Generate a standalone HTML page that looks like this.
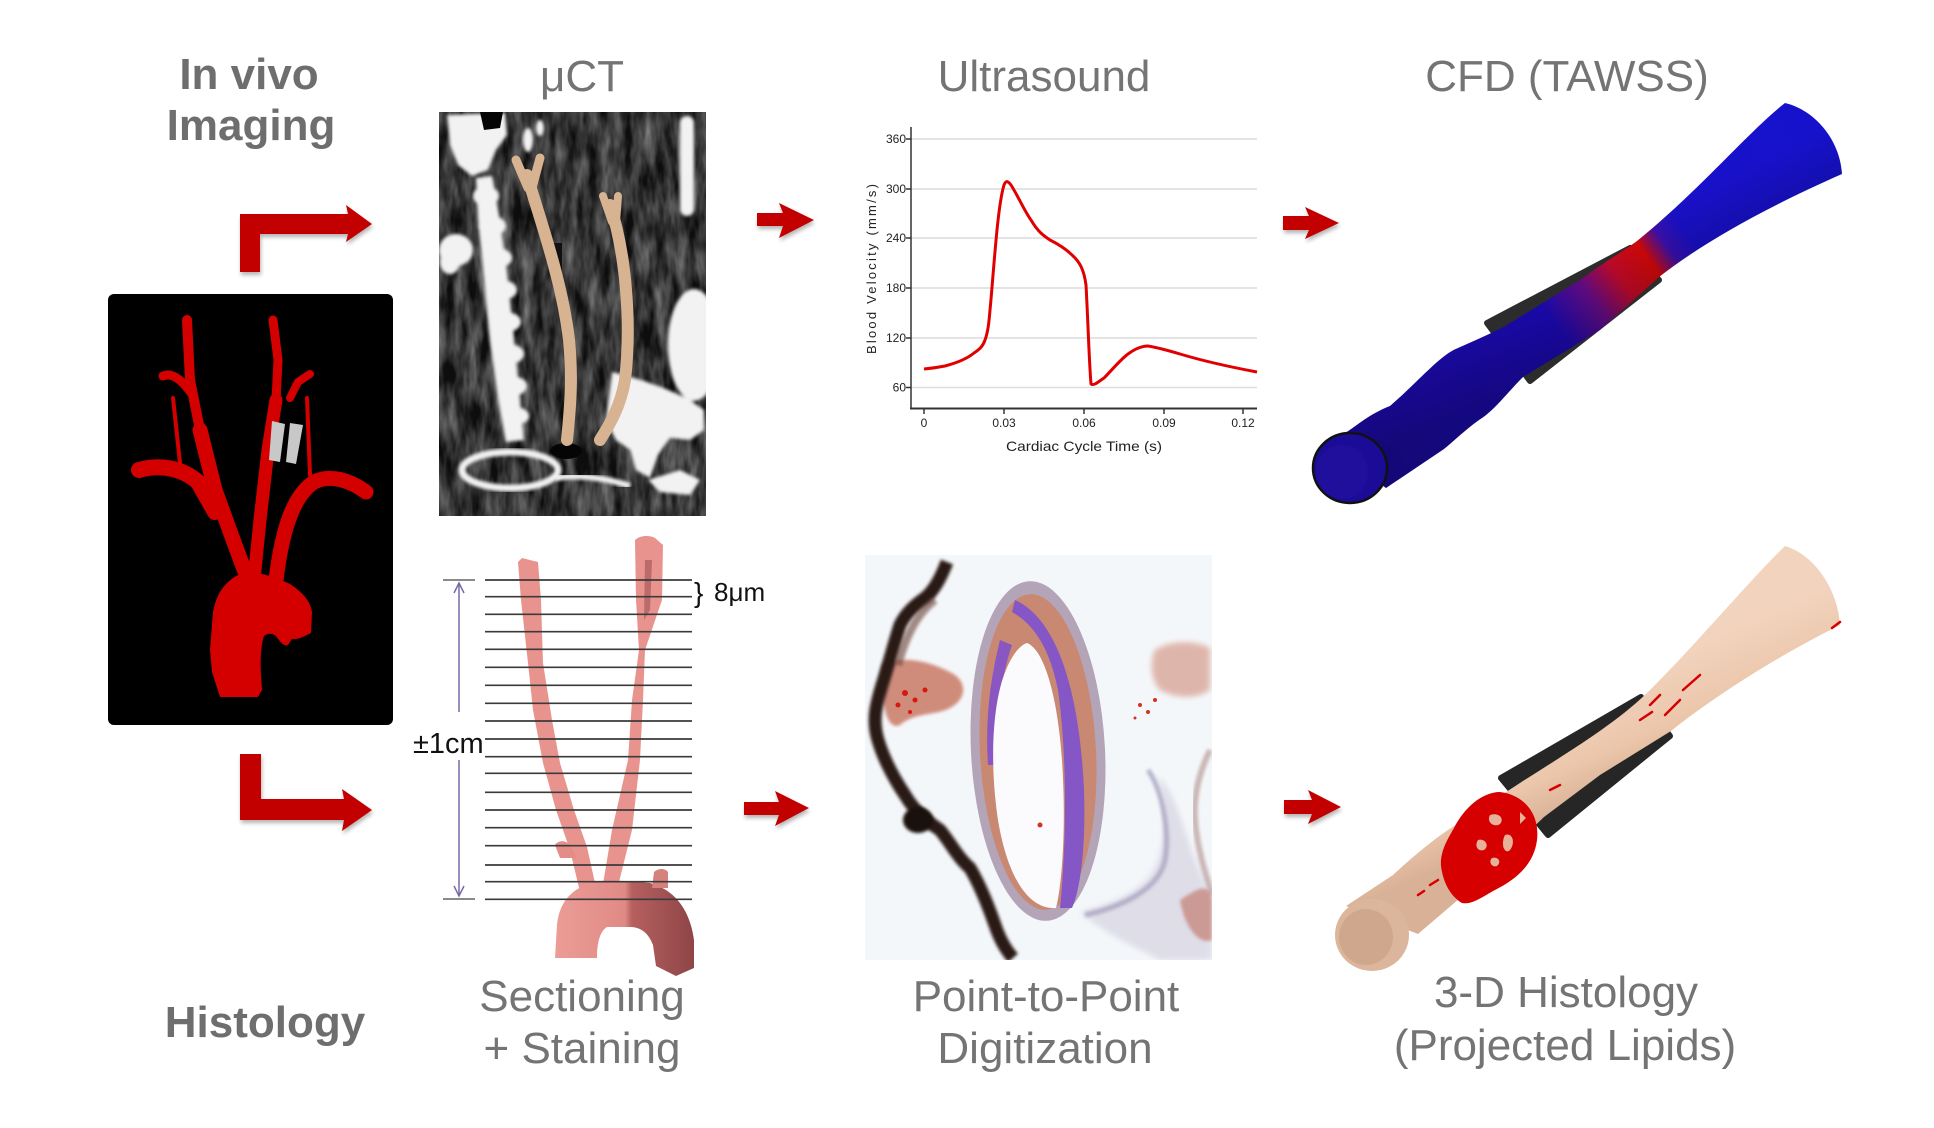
<!DOCTYPE html>
<html>
<head>
<meta charset="utf-8">
<style>
  html,body{margin:0;padding:0;background:#fff;}
  svg{display:block;}
  text{font-family:"Liberation Sans", Arial, sans-serif;}
</style>
</head>
<body>
<svg width="1934" height="1128" viewBox="0 0 1934 1128" xmlns="http://www.w3.org/2000/svg">
  <defs>
    <filter id="noise" x="0" y="0" width="100%" height="100%" color-interpolation-filters="sRGB">
      <feTurbulence type="fractalNoise" baseFrequency="0.09 0.025" numOctaves="3" seed="7"/>
      <feColorMatrix type="matrix" values="0.8 0 0 0 -0.2  0.8 0 0 0 -0.2  0.8 0 0 0 -0.2  0 0 0 0 1"/>
    </filter>
    <filter id="blur1" color-interpolation-filters="sRGB"><feGaussianBlur stdDeviation="1.6"/></filter>
    <filter id="blur2" color-interpolation-filters="sRGB"><feGaussianBlur stdDeviation="3"/></filter>
    <filter id="shadow" x="-20%" y="-20%" width="140%" height="160%" color-interpolation-filters="sRGB">
      <feGaussianBlur in="SourceAlpha" stdDeviation="2"/>
      <feOffset dx="1" dy="3"/>
      <feComponentTransfer><feFuncA type="linear" slope="0.3"/></feComponentTransfer>
      <feMerge><feMergeNode/><feMergeNode in="SourceGraphic"/></feMerge>
    </filter>
    <linearGradient id="cfdGrad" gradientUnits="userSpaceOnUse" x1="1350" y1="468" x2="1814" y2="138">
      <stop offset="0" stop-color="#1a0a9c"/>
      <stop offset="0.44" stop-color="#1c0ab8"/>
      <stop offset="0.52" stop-color="#6a0c8a"/>
      <stop offset="0.58" stop-color="#c80a2a"/>
      <stop offset="0.64" stop-color="#d80808"/>
      <stop offset="0.68" stop-color="#3a10b0"/>
      <stop offset="0.72" stop-color="#1a10c8"/>
      <stop offset="1" stop-color="#1612cc"/>
    </linearGradient>
    <linearGradient id="cfdShade" gradientUnits="userSpaceOnUse" x1="1600" y1="240" x2="1640" y2="320">
      <stop offset="0" stop-color="#000" stop-opacity="0"/>
      <stop offset="1" stop-color="#000" stop-opacity="0.25"/>
    </linearGradient>
    <linearGradient id="tanGrad" gradientUnits="userSpaceOnUse" x1="1600" y1="690" x2="1640" y2="780">
      <stop offset="0" stop-color="#f2d3bd"/>
      <stop offset="0.6" stop-color="#ebc6ab"/>
      <stop offset="1" stop-color="#d9b196"/>
    </linearGradient>
    <linearGradient id="archGrad" gradientUnits="userSpaceOnUse" x1="555" y1="0" x2="695" y2="0">
      <stop offset="0" stop-color="#ec9c96"/>
      <stop offset="0.5" stop-color="#e08a86"/>
      <stop offset="0.55" stop-color="#b5605f"/>
      <stop offset="1" stop-color="#8e4446"/>
    </linearGradient>
    <clipPath id="ctClip"><rect x="439" y="112" width="267" height="404"/></clipPath>
    <clipPath id="histClip"><rect x="865" y="555" width="347" height="405"/></clipPath>
  </defs>

  <!-- ===== Headers ===== -->
  <text x="249" y="89" font-size="44" font-weight="bold" fill="#6e6e6e" text-anchor="middle">In vivo</text>
  <text x="251" y="140" font-size="44" font-weight="bold" fill="#6e6e6e" text-anchor="middle">Imaging</text>
  <text x="582" y="91" font-size="44" fill="#747474" text-anchor="middle">μCT</text>
  <text x="1044" y="91" font-size="44" fill="#747474" text-anchor="middle">Ultrasound</text>
  <text x="1567" y="91" font-size="44" fill="#747474" text-anchor="middle">CFD (TAWSS)</text>

  <!-- ===== Bottom labels ===== -->
  <text x="265" y="1037" font-size="44" font-weight="bold" fill="#6e6e6e" text-anchor="middle">Histology</text>
  <text x="582" y="1011" font-size="44" fill="#747474" text-anchor="middle">Sectioning</text>
  <text x="582" y="1063" font-size="44" fill="#747474" text-anchor="middle">+ Staining</text>
  <text x="1046" y="1011" font-size="44" fill="#747474" text-anchor="middle">Point-to-Point</text>
  <text x="1045" y="1063" font-size="44" fill="#747474" text-anchor="middle">Digitization</text>
  <text x="1566" y="1007" font-size="44" fill="#747474" text-anchor="middle">3-D Histology</text>
  <text x="1565" y="1060" font-size="44" fill="#747474" text-anchor="middle">(Projected Lipids)</text>

  <!-- ===== L arrows ===== -->
  <g fill="#c20000" filter="url(#shadow)">
    <polygon points="240,214 348,214 346,205 372,224 346,242 348,234 260,234 260,272 240,272"/>
    <polygon points="240,754 261,754 261,799 344,799 342,789 372,810 342,831 344,820 240,820"/>
  </g>

  <!-- ===== straight arrows ===== -->
  <g fill="#c20000" filter="url(#shadow)">
    <polygon points="757,213 783,213 779,203 814,220 779,238 783,226 757,226"/>
    <polygon points="1283,216 1309,216 1305,207 1339,223 1305,239 1309,230 1283,230"/>
    <polygon points="744,802 779,802 775,791 809,808 775,826 779,815 744,815"/>
    <polygon points="1284,800 1312,800 1308,790 1341,807 1308,824 1312,814 1284,814"/>
  </g>

  <!-- ===== Black box with vessel tree ===== -->
  <rect x="108" y="294" width="285" height="431" rx="6" fill="#000"/>
  <g stroke="#d40000" fill="none" stroke-linecap="round" stroke-linejoin="round">
    <path d="M187,320 L190,380 L200,430" stroke-width="10"/>
    <path d="M200,430 L215,490 L235,545 L250,585" stroke-width="15"/>
    <path d="M163,376 C172,372 182,380 192,394" stroke-width="9"/>
    <path d="M173,398 L180,463" stroke-width="4"/>
    <path d="M139,470 C160,464 182,468 198,482 L215,512" stroke-width="16"/>
    <path d="M273,320 L278,360 L276,400" stroke-width="9"/>
    <path d="M276,400 L268,450 L260,520 L254,580" stroke-width="13"/>
    <path d="M290,398 L298,382 L310,374" stroke-width="8"/>
    <path d="M307,398 L310,475" stroke-width="4"/>
    <path d="M366,492 C350,480 330,474 314,482 C296,494 283,522 276,580" stroke-width="15"/>
  </g>
  <polygon points="272,421 285,424 280,462 269,460" fill="#c8c8c8"/>
  <polygon points="290,423 303,425 296,464 286,462" fill="#c8c8c8"/>
  <path d="M227,583 C235,575 245,571 252,572 C265,574 278,578 290,584 C302,592 310,600 312,612 L311,633 C305,636 298,640 292,639 L288,645 C283,647 279,640 276,636 C272,633 268,633 264,636 C261,645 260,660 261,675 L262,690 L258,697 L220,697 L212,672 L210,650 L213,612 C216,598 220,590 227,583 Z" fill="#d40000"/>

  <!-- ===== μCT image ===== -->
  <g clip-path="url(#ctClip)">
    <rect x="439" y="112" width="267" height="404" fill="#444"/>
    <rect x="439" y="112" width="267" height="404" filter="url(#noise)" opacity="0.8"/>
    <g fill="#f2f2f2" filter="url(#blur1)">
      <path d="M447,115 L505,113 L507,135 L496,150 L488,170 L472,176 L458,165 L450,145 Z"/>
      <path d="M476,178 L492,176 L500,220 L508,280 L514,340 L520,400 L524,440 L506,442 L498,400 L490,340 L484,280 L478,220 Z"/>
      <ellipse cx="486" cy="196" rx="13" ry="10"/>
      <ellipse cx="492" cy="226" rx="14" ry="10"/>
      <ellipse cx="497" cy="258" rx="15" ry="10"/>
      <ellipse cx="502" cy="290" rx="15" ry="10"/>
      <ellipse cx="506" cy="322" rx="15" ry="10"/>
      <ellipse cx="509" cy="354" rx="15" ry="10"/>
      <ellipse cx="512" cy="386" rx="15" ry="10"/>
      <ellipse cx="515" cy="416" rx="14" ry="9"/>
      <ellipse cx="456" cy="250" rx="17" ry="16"/>
      <ellipse cx="450" cy="262" rx="10" ry="12"/>
      <ellipse cx="528" cy="140" rx="5" ry="12"/>
      <ellipse cx="540" cy="128" rx="4" ry="8"/>
      <rect x="680" y="116" width="14" height="100" rx="7"/>
      <ellipse cx="694" cy="345" rx="26" ry="56"/>
      <path d="M612,372 C630,376 660,385 690,400 L704,410 L704,430 L690,440 L670,438 L658,455 L650,478 L636,470 L630,450 L616,440 L606,420 Z"/>
      <path d="M648,480 L680,470 L700,480 L690,495 L660,492 Z"/>
    </g>
    <g fill="#050505"><ellipse cx="566" cy="451" rx="16" ry="8"/></g>
    <ellipse cx="510" cy="470" rx="48" ry="18" fill="none" stroke="#f2f2f2" stroke-width="7" filter="url(#blur1)"/>
    <path d="M555,478 C580,474 605,478 630,486" fill="none" stroke="#f2f2f2" stroke-width="6" filter="url(#blur1)"/>
    <path d="M480,112 L503,112 L500,128 L484,130 Z" fill="#050505"/>
    <rect x="553" y="243" width="9" height="30" fill="#111"/>
    <g stroke="#d8b392" fill="none" stroke-linecap="round">
      <path d="M527,175 C540,220 562,280 569,340 C573,380 570,410 567,440" stroke-width="12"/>
      <path d="M516,160 L528,188" stroke-width="9"/>
      <path d="M540,158 L532,188" stroke-width="9"/>
      <path d="M610,205 C625,250 632,320 625,380 C620,410 606,430 600,440" stroke-width="12"/>
      <path d="M603,196 L612,222" stroke-width="8"/>
      <path d="M618,196 L616,222" stroke-width="8"/>
    </g>
  </g>

  <!-- ===== Ultrasound chart ===== -->
  <g stroke="#dcdcdc" stroke-width="1.5">
    <line x1="911" y1="139" x2="1257" y2="139"/>
    <line x1="911" y1="189" x2="1257" y2="189"/>
    <line x1="911" y1="238" x2="1257" y2="238"/>
    <line x1="911" y1="288" x2="1257" y2="288"/>
    <line x1="911" y1="338" x2="1257" y2="338"/>
    <line x1="911" y1="387.5" x2="1257" y2="387.5"/>
  </g>
  <g stroke="#333" stroke-width="1.5">
    <line x1="911" y1="127" x2="911" y2="409"/>
    <line x1="910" y1="408.5" x2="1257" y2="408.5" stroke-width="2"/>
    <line x1="906" y1="139" x2="911" y2="139"/>
    <line x1="906" y1="189" x2="911" y2="189"/>
    <line x1="906" y1="238" x2="911" y2="238"/>
    <line x1="906" y1="288" x2="911" y2="288"/>
    <line x1="906" y1="338" x2="911" y2="338"/>
    <line x1="906" y1="387.5" x2="911" y2="387.5"/>
    <line x1="924" y1="409" x2="924" y2="414"/>
    <line x1="1004" y1="409" x2="1004" y2="414"/>
    <line x1="1084" y1="409" x2="1084" y2="414"/>
    <line x1="1164" y1="409" x2="1164" y2="414"/>
    <line x1="1243" y1="409" x2="1243" y2="414"/>
  </g>
  <g font-size="12" fill="#222" text-anchor="end">
    <text x="906" y="143">360</text>
    <text x="906" y="193">300</text>
    <text x="906" y="242">240</text>
    <text x="906" y="292">180</text>
    <text x="906" y="342">120</text>
    <text x="906" y="391.5">60</text>
  </g>
  <g font-size="12" fill="#222" text-anchor="middle">
    <text x="924" y="427">0</text>
    <text x="1004" y="427">0.03</text>
    <text x="1084" y="427">0.06</text>
    <text x="1164" y="427">0.09</text>
    <text x="1243" y="427">0.12</text>
  </g>
  <text x="1084" y="451" font-size="14" fill="#222" text-anchor="middle" textLength="156" lengthAdjust="spacingAndGlyphs">Cardiac Cycle Time (s)</text>
  <text transform="translate(876,269) rotate(-90)" font-size="13" fill="#222" text-anchor="middle" textLength="170" lengthAdjust="spacing">Blood Velocity (mm/s)</text>
  <path d="M924,369 C935,368 940,367 945,366 C960,362 968,358 974,353 C980,349 983,346 985,340 C988,332 989,322 990,310 C992,290 994,260 997,230 C999,210 1001,195 1004,185 C1006,180 1008,181 1011,185 C1018,196 1025,212 1031,220 C1038,232 1044,236 1050,240 C1058,244 1065,248 1072,255 C1080,262 1084,270 1086,285 C1088,320 1089,360 1091,384 C1094,386 1098,382 1104,378 C1112,370 1120,360 1128,354 C1136,348 1142,346 1148,346 C1160,348 1170,351 1180,354 C1200,360 1225,366 1257,372" fill="none" stroke="#e00000" stroke-width="3" stroke-linejoin="round"/>

  <!-- ===== CFD vessel ===== -->
  <polygon points="1487,323 1630,248 1659,280 1530,381" fill="#2c2c2c" stroke="#2c2c2c" stroke-width="6" stroke-linejoin="round"/>
  <path d="M1785,103 C1815,110 1840,140 1842,174 C1760,210 1700,245 1659,277 L1600,330 L1523,377 C1505,395 1495,410 1479,420 C1465,430 1455,440 1444,449 L1386,488 L1328,445 L1354,427 C1370,415 1380,410 1390,406 C1420,380 1440,355 1458,348 C1480,338 1500,330 1515,320 L1580,280 C1600,265 1625,250 1637,241 C1700,190 1750,130 1785,103 Z" fill="url(#cfdGrad)"/>
  <path d="M1785,103 C1815,110 1840,140 1842,174 C1760,210 1700,245 1659,277 L1600,330 L1523,377 C1505,395 1495,410 1479,420 C1465,430 1455,440 1444,449 L1386,488 L1328,445 L1354,427 C1370,415 1380,410 1390,406 C1420,380 1440,355 1458,348 C1480,338 1500,330 1515,320 L1580,280 C1600,265 1625,250 1637,241 C1700,190 1750,130 1785,103 Z" fill="url(#cfdShade)"/>
  <ellipse cx="1350" cy="468" rx="37" ry="35" fill="#1a0c96" stroke="#111" stroke-width="2.5"/>
  <ellipse cx="1342" cy="472" rx="26" ry="27" fill="#22109e" opacity="0.8"/>

  <!-- ===== Sectioning ===== -->
  <g>
    <path d="M518,562 L522,558 L530,560 L538,562 L541,600 L543,663 L552,720 L560,763 L574,810 L587,847 L597,892 L580,892 L570,850 L556,810 L543,763 L533,710 L528,663 L521,600 Z" fill="#e9938e"/>
    <path d="M555,845 C558,840 566,840 570,845 L577,858 L560,858 Z" fill="#e48c88"/>
    <path d="M635,540 C640,535 650,535 655,538 L663,545 L662,600 L645,650 L643,700 L640,760 L632,830 L617,890 L602,890 L612,830 L628,760 L632,700 L639,650 L636,600 Z" fill="#e9938e"/>
    <path d="M645,560 L652,560 L650,610 L644,620 Z" fill="#9c5050" opacity="0.6"/>
    <path d="M555,958 L557,925 C560,895 580,882 610,880 L650,883 C675,890 690,910 694,940 L694,968 L676,976 L656,966 L653,945 C648,932 640,927 630,927 L607,927 C599,932 597,945 597,958 Z" fill="url(#archGrad)"/>
    <path d="M652,888 L654,872 C658,868 665,868 668,872 L668,888 Z" fill="#d5817d"/>
    <g stroke="#3a3a3a" stroke-width="1.7">
      <line x1="485" y1="580" x2="692" y2="580"/>
      <line x1="485" y1="596.7" x2="692" y2="596.7"/>
      <line x1="485" y1="614.3" x2="692" y2="614.3"/>
      <line x1="485" y1="631.7" x2="692" y2="631.7"/>
      <line x1="485" y1="649.3" x2="692" y2="649.3"/>
      <line x1="485" y1="667.3" x2="692" y2="667.3"/>
      <line x1="485" y1="685.3" x2="692" y2="685.3"/>
      <line x1="485" y1="703.3" x2="692" y2="703.3"/>
      <line x1="485" y1="721" x2="692" y2="721"/>
      <line x1="485" y1="739" x2="692" y2="739"/>
      <line x1="485" y1="756.7" x2="692" y2="756.7"/>
      <line x1="485" y1="773.3" x2="692" y2="773.3"/>
      <line x1="485" y1="792.3" x2="692" y2="792.3"/>
      <line x1="485" y1="810" x2="692" y2="810"/>
      <line x1="485" y1="827.7" x2="692" y2="827.7"/>
      <line x1="485" y1="845.7" x2="692" y2="845.7"/>
      <line x1="485" y1="865" x2="692" y2="865"/>
      <line x1="485" y1="881.7" x2="692" y2="881.7"/>
      <line x1="485" y1="899.3" x2="692" y2="899.3"/>
    </g>
    <g stroke="#8a8a8a" stroke-width="2">
      <line x1="443" y1="580" x2="475" y2="580"/>
      <line x1="443" y1="899" x2="475" y2="899"/>
    </g>
    <g stroke="#7868a8" stroke-width="1.5" fill="none">
      <line x1="459" y1="583" x2="459" y2="712"/>
      <line x1="459" y1="760" x2="459" y2="896"/>
      <polyline points="454,593 459,583 464,593"/>
      <polyline points="454,886 459,896 464,886"/>
    </g>
    <text x="413" y="753" font-size="29" fill="#111">±1cm</text>
    <text x="694" y="602" font-size="28" fill="#111">}</text>
    <text x="714" y="601" font-size="26" fill="#111">8μm</text>
  </g>

  <!-- ===== Histology image ===== -->
  <g clip-path="url(#histClip)">
    <rect x="865" y="555" width="347" height="405" fill="#f4f7fa"/>
    <path d="M882,665 C900,655 930,660 955,675 C968,685 965,700 950,708 C935,716 915,712 900,725 C890,730 880,715 882,665 Z" fill="#c97a66" opacity="0.85" filter="url(#blur1)"/>
    <g fill="#d41a10">
      <circle cx="905" cy="693" r="3"/><circle cx="915" cy="700" r="2.5"/><circle cx="925" cy="690" r="2.5"/><circle cx="898" cy="705" r="2.5"/><circle cx="910" cy="712" r="2"/>
    </g>
    <path d="M947,562 C942,575 935,590 925,598 C912,607 905,615 900,625 C895,640 890,660 882,685 C876,705 872,720 878,740 C884,760 895,780 905,795 C915,812 928,822 940,830 C950,842 958,858 970,868 C980,885 988,905 995,925 C1000,940 1006,950 1013,958" fill="none" stroke="#2a1a16" stroke-width="13" stroke-linejoin="round" filter="url(#blur1)"/>
    <path d="M935,600 C915,615 905,640 898,665" fill="none" stroke="#6a4034" stroke-width="8" opacity="0.6" filter="url(#blur1)"/>
    <ellipse cx="918" cy="820" rx="15" ry="13" fill="#1a100c" filter="url(#blur1)"/>
    <path d="M1155,650 C1170,640 1195,640 1210,648 L1210,690 C1195,700 1175,698 1160,690 C1150,680 1150,660 1155,650 Z" fill="#d69a8a" opacity="0.7" filter="url(#blur2)"/>
    <path d="M1158,775 C1172,790 1180,815 1188,840 C1196,865 1206,885 1212,900 L1212,960 L1160,960 C1130,945 1100,930 1080,912 C1105,905 1135,895 1150,875 C1165,855 1168,815 1158,775 Z" fill="#c4bfd4" opacity="0.45" filter="url(#blur2)"/>
    <path d="M1148,770 C1162,790 1170,830 1165,860 C1160,885 1130,905 1085,915" fill="none" stroke="#a9a3c0" stroke-width="5" opacity="0.8" filter="url(#blur1)"/>
    <path d="M1210,750 C1198,775 1192,800 1196,830 C1200,860 1208,880 1212,895" fill="none" stroke="#b89a98" stroke-width="6" opacity="0.7" filter="url(#blur1)"/>
    <path d="M1180,900 C1195,890 1210,880 1212,900 L1212,940 C1200,945 1185,930 1180,900 Z" fill="#c88a80" opacity="0.8" filter="url(#blur1)"/>
    <ellipse cx="1038" cy="751" rx="67" ry="170" transform="rotate(-3 1038 751)" fill="#b4a4b8"/>
    <ellipse cx="1038" cy="752" rx="58" ry="158" transform="rotate(-3 1038 752)" fill="#c98872"/>
    <path d="M1015,600 C1060,620 1080,700 1084,790 C1086,850 1080,890 1072,908 L1060,908 C1066,850 1068,760 1058,690 C1050,650 1035,625 1012,612 Z" fill="#8456c6"/>
    <path d="M1000,640 C990,680 985,720 988,765 L997,765 C996,720 1000,680 1012,645 Z" fill="#8a56c2"/>
    <path d="M1027,643 C1045,650 1058,700 1062,760 C1066,820 1063,880 1056,908 C1030,910 1008,880 998,820 C989,760 993,700 1006,670 C1012,655 1020,645 1027,643 Z" fill="#fbfbfd"/>
    <g fill="#d63020"><circle cx="1140" cy="705" r="2"/><circle cx="1148" cy="712" r="2"/><circle cx="1155" cy="700" r="2"/><circle cx="1135" cy="718" r="1.5"/><circle cx="1040" cy="825" r="2.5"/></g>
  </g>

  <!-- ===== 3-D Histology vessel ===== -->
  <polygon points="1501,778 1641,697 1670,736 1548,835" fill="#262626" stroke="#262626" stroke-width="6" stroke-linejoin="round"/>
  <path d="M1785,546 C1815,555 1838,590 1840,625 C1770,660 1710,700 1671,731 L1600,775 L1544,817 C1520,840 1500,860 1487,875 L1418,934 L1346,906 L1393,875 C1420,850 1440,835 1451,828 L1523,781 C1580,745 1620,720 1650,690 C1700,640 1750,580 1785,546 Z" fill="url(#tanGrad)"/>
  <ellipse cx="1372" cy="935" rx="37" ry="36" fill="#dcb69c"/>
  <ellipse cx="1366" cy="937" rx="27" ry="28" fill="#cfa78d"/>
  <path d="M1500,792 C1525,795 1540,815 1537,840 C1534,865 1515,880 1495,890 C1482,897 1472,905 1462,903 C1450,896 1443,882 1441,866 C1440,852 1447,840 1454,828 C1464,808 1482,792 1500,792 Z" fill="#d60000"/>
  <g fill="#ebc6ab" opacity="0.9">
    <path d="M1490,815 C1498,812 1505,818 1500,824 C1494,828 1486,822 1490,815 Z"/>
    <path d="M1505,835 C1512,832 1516,842 1510,850 C1505,855 1500,845 1505,835 Z"/>
    <path d="M1478,840 C1485,838 1490,846 1484,850 C1478,852 1474,846 1478,840 Z"/>
    <path d="M1492,858 C1498,856 1502,862 1497,866 C1492,868 1488,862 1492,858 Z"/>
    <path d="M1520,812 L1526,818 L1520,824 Z"/>
  </g>
  <g stroke="#d60000" stroke-width="2.5" stroke-linecap="round">
    <line x1="1650" y1="705" x2="1660" y2="695"/>
    <line x1="1665" y1="715" x2="1680" y2="700"/>
    <line x1="1640" y1="720" x2="1652" y2="712"/>
    <line x1="1683" y1="690" x2="1700" y2="675"/>
    <line x1="1550" y1="790" x2="1560" y2="785"/>
    <line x1="1430" y1="885" x2="1438" y2="880"/>
    <line x1="1418" y1="895" x2="1424" y2="891"/>
    <line x1="1832" y1="628" x2="1840" y2="622"/>
  </g>
</svg>
</body>
</html>
